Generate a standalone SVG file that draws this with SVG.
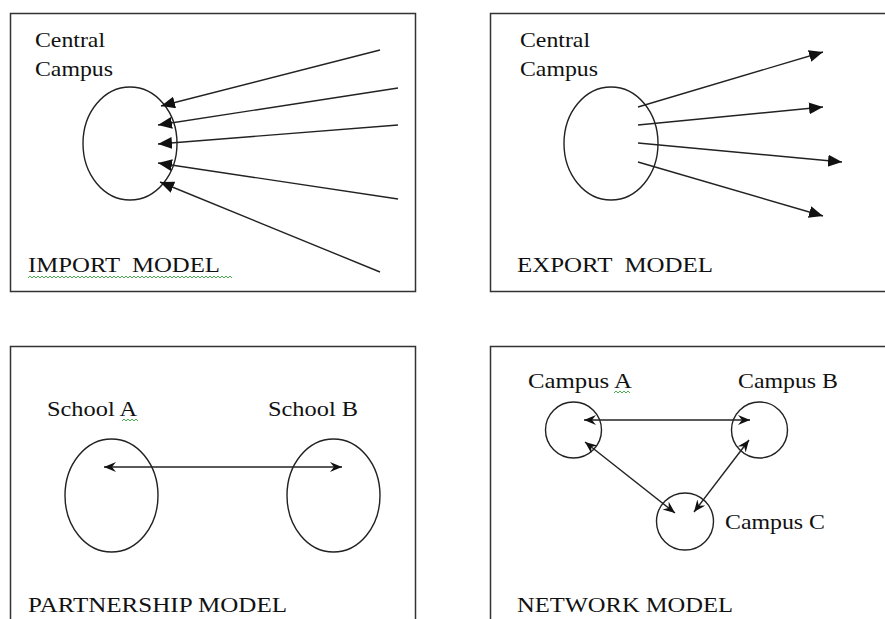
<svg xmlns="http://www.w3.org/2000/svg" width="885" height="619" viewBox="0 0 885 619">
<style>
.box{fill:#fff;stroke:#333;stroke-width:1.5}
.shape{fill:none;stroke:#222;stroke-width:1.4}
.t{font-size:22px;fill:#111}
.c line{stroke:#222;stroke-width:1.4}
.sq{fill:none;stroke:#4caf50;stroke-width:1}
</style>
<defs>
<marker id="tri" markerUnits="userSpaceOnUse" markerWidth="18" markerHeight="14" refX="14" refY="6" orient="auto">
<path d="M0,0 L14,6 L0,12 z" fill="#111"/>
</marker>
<marker id="barb" markerUnits="userSpaceOnUse" markerWidth="16" markerHeight="14" refX="12" refY="5" orient="auto-start-reverse">
<path d="M0,0 L12,5 L0,10 L4,5 z" fill="#111"/>
</marker>
</defs>
<rect width="885" height="619" fill="#fff"/>

<g id="import" font-family="Liberation Serif, DejaVu Serif, serif">
<rect class="box" x="10.5" y="13.5" width="405" height="278"/>
<text class="t" x="35" y="47" textLength="70" lengthAdjust="spacingAndGlyphs">Central</text>
<text class="t" x="35" y="76" textLength="78" lengthAdjust="spacingAndGlyphs">Campus</text>
<ellipse id="central-import" class="shape" cx="130" cy="143.5" rx="47" ry="56.5"/>
<text class="t" x="28" y="272" textLength="192" lengthAdjust="spacingAndGlyphs" xml:space="preserve">IMPORT  MODEL</text>
<path class="sq" d="M28,278 l2,-2 l2,2 l2,-2 l2,2 l2,-2 l2,2 l2,-2 l2,2 l2,-2 l2,2 l2,-2 l2,2 l2,-2 l2,2 l2,-2 l2,2 l2,-2 l2,2 l2,-2 l2,2 l2,-2 l2,2 l2,-2 l2,2 l2,-2 l2,2 l2,-2 l2,2 l2,-2 l2,2 l2,-2 l2,2 l2,-2 l2,2 l2,-2 l2,2 l2,-2 l2,2 l2,-2 l2,2 l2,-2 l2,2 l2,-2 l2,2 l2,-2 l2,2 l2,-2 l2,2 l2,-2 l2,2 l2,-2 l2,2 l2,-2 l2,2 l2,-2 l2,2 l2,-2 l2,2 l2,-2 l2,2 l2,-2 l2,2 l2,-2 l2,2 l2,-2 l2,2 l2,-2 l2,2 l2,-2 l2,2 l2,-2 l2,2 l2,-2 l2,2 l2,-2 l2,2 l2,-2 l2,2 l2,-2 l2,2 l2,-2 l2,2 l2,-2 l2,2 l2,-2 l2,2 l2,-2 l2,2 l2,-2 l2,2 l2,-2 l2,2 l2,-2 l2,2 l2,-2 l2,2 l2,-2 l2,2 l2,-2 l2,2 l2,-2 l2,2"/>
</g>

<g id="export" font-family="Liberation Serif, DejaVu Serif, serif">
<rect class="box" x="490.5" y="13.5" width="400" height="278"/>
<text class="t" x="520" y="47" textLength="70" lengthAdjust="spacingAndGlyphs">Central</text>
<text class="t" x="520" y="76" textLength="78" lengthAdjust="spacingAndGlyphs">Campus</text>
<ellipse id="central-export" class="shape" cx="611" cy="143.5" rx="47" ry="56.5"/>
<text class="t" x="517" y="272" textLength="196" lengthAdjust="spacingAndGlyphs" xml:space="preserve">EXPORT  MODEL</text>
</g>

<g id="partnership" font-family="Liberation Serif, DejaVu Serif, serif">
<rect class="box" x="10.5" y="346.5" width="405" height="300"/>
<text class="t" x="47" y="416" textLength="90" lengthAdjust="spacingAndGlyphs">School A</text>
<path class="sq" d="M122,421 l2,-2 l2,2 l2,-2 l2,2 l2,-2 l2,2 l2,-2 l2,2"/>
<text class="t" x="268" y="416" textLength="90" lengthAdjust="spacingAndGlyphs">School B</text>
<ellipse id="school-a" class="shape" cx="111.5" cy="495.5" rx="46.5" ry="56.5"/>
<ellipse id="school-b" class="shape" cx="333.5" cy="495.5" rx="46.5" ry="56.5"/>
<text class="t" x="28" y="612" textLength="259" lengthAdjust="spacingAndGlyphs">PARTNERSHIP MODEL</text>
</g>

<g id="network" font-family="Liberation Serif, DejaVu Serif, serif">
<rect class="box" x="490.5" y="346.5" width="400" height="300"/>
<text class="t" x="528" y="388" textLength="104" lengthAdjust="spacingAndGlyphs">Campus A</text>
<path class="sq" d="M614,393 l2,-2 l2,2 l2,-2 l2,2 l2,-2 l2,2 l2,-2 l2,2"/>
<text class="t" x="738" y="388" textLength="100" lengthAdjust="spacingAndGlyphs">Campus B</text>
<text class="t" x="725" y="529" textLength="100" lengthAdjust="spacingAndGlyphs">Campus C</text>
<circle id="campus-a" class="shape" cx="573.5" cy="430" r="28"/>
<circle id="campus-b" class="shape" cx="759.5" cy="430" r="28"/>
<circle id="campus-c" class="shape" cx="685" cy="521.5" r="28.5"/>
<text class="t" x="517" y="612" textLength="216" lengthAdjust="spacingAndGlyphs">NETWORK MODEL</text>
</g>

<g id="connectors" class="c">
<line x1="380" y1="50" x2="161" y2="106" marker-end="url(#tri)"/>
<line x1="398" y1="88" x2="158" y2="125" marker-end="url(#tri)"/>
<line x1="398" y1="125" x2="158" y2="144" marker-end="url(#tri)"/>
<line x1="398" y1="199" x2="158" y2="163" marker-end="url(#tri)"/>
<line x1="380" y1="272" x2="160" y2="182" marker-end="url(#tri)"/>

<line x1="638" y1="107" x2="823" y2="52" marker-end="url(#tri)"/>
<line x1="638" y1="125" x2="823" y2="107" marker-end="url(#tri)"/>
<line x1="638" y1="143" x2="842" y2="162" marker-end="url(#tri)"/>
<line x1="638" y1="162" x2="823" y2="216" marker-end="url(#tri)"/>

<line x1="104" y1="467" x2="342" y2="467" marker-start="url(#barb)" marker-end="url(#barb)"/>

<line x1="584" y1="420" x2="750" y2="420" marker-start="url(#barb)" marker-end="url(#barb)"/>
<line x1="585" y1="442" x2="675" y2="513" marker-start="url(#barb)" marker-end="url(#barb)"/>
<line x1="749" y1="440" x2="694" y2="512" marker-start="url(#barb)" marker-end="url(#barb)"/>
</g>
</svg>
